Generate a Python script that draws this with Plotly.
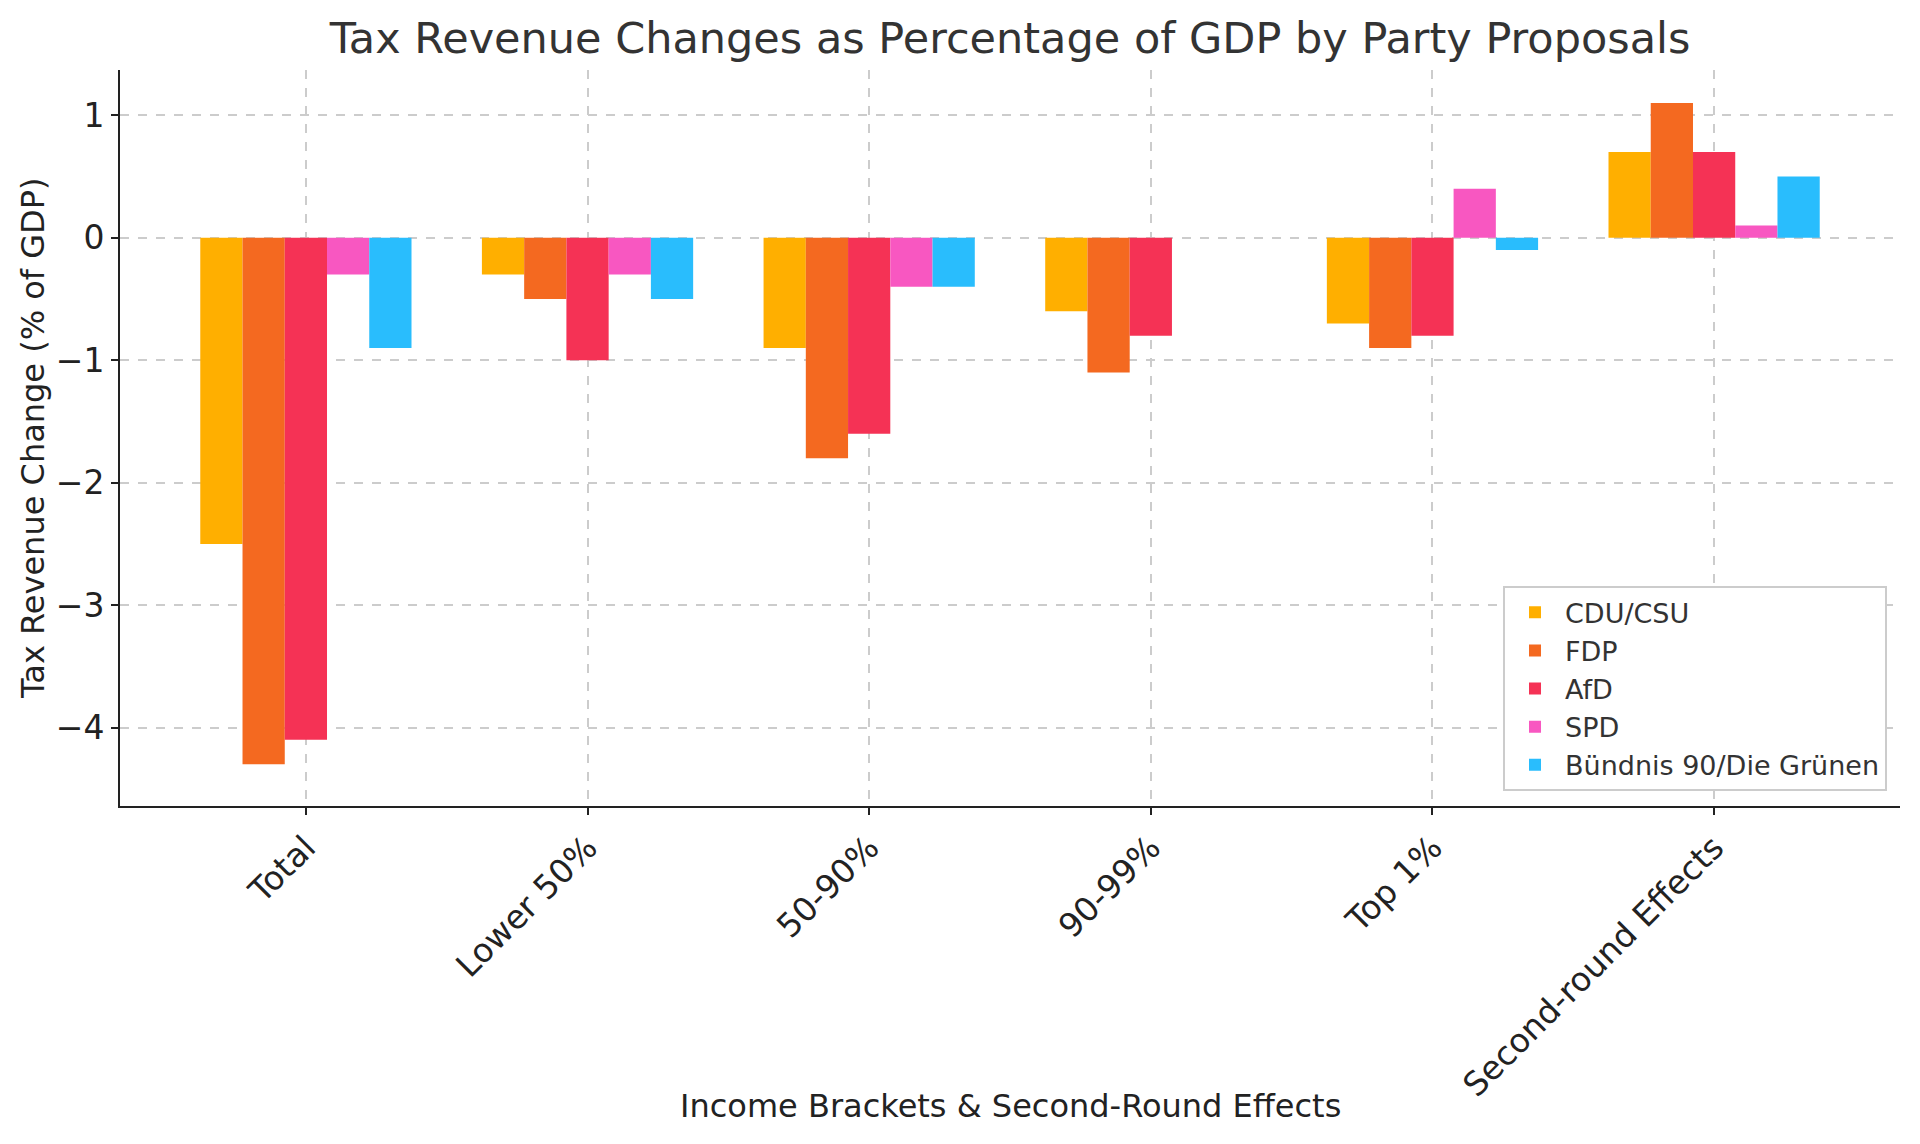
import plotly.graph_objects as go

categories = ["Total", "Lower 50%", "50-90%", "90-99%", "Top 1%", "Second-round Effects"]
parties = ["CDU/CSU", "FDP", "AfD", "SPD", "Bündnis 90/Die Grünen"]

cdu_csu = [-2.5, -0.3, -0.9, -0.6, -0.7, 0.7]
fdp = [-4.3, -0.5, -1.8, -1.1, -0.9, 1.1]
afd = [-4.1, -1.0, -1.6, -0.8, -0.8, 0.7]
spd = [-0.3, -0.3, -0.4, 0.0, 0.4, 0.1]
gruene = [-0.9, -0.5, -0.4, 0.0, -0.1, 0.5]

series = [cdu_csu, fdp, afd, spd, gruene]
colors = ["#FFAF00", "#F46920", "#F53255", "#F857C1", "#29BDFD"]

FONT = "DejaVu Sans"

fig = go.Figure()
for name, vals, col in zip(parties, series, colors):
    fig.add_trace(go.Bar(
        x=categories, y=vals, name=name,
        marker=dict(color=col, line=dict(width=0)),
    ))

fig.update_layout(
    width=1920, height=1144,
    barmode="group", bargap=0.25, bargroupgap=0,
    plot_bgcolor="white", paper_bgcolor="white",
    margin=dict(l=112, r=28, t=62, b=346),
    font=dict(family=FONT, color="#222222"),
    title=dict(
        text="Tax Revenue Changes as Percentage of GDP by Party Proposals",
        x=0.5, xref="paper", y=1 - 30 / 1144, yref="container", yanchor="middle",
        font=dict(size=43, color="#333333", family=FONT),
    ),
    legend=dict(
        x=0.9927, y=0.02, xanchor="right", yanchor="bottom",
        bgcolor="white", bordercolor="#cccccc", borderwidth=2,
        font=dict(size=27, color="#333333", family=FONT),
        itemsizing="constant", itemwidth=50,
    ),
    showlegend=True,
    annotations=[
        dict(
            text="Income Brackets & Second-Round Effects",
            xref="paper", yref="paper", x=0.5, y=-0.4076,
            xanchor="center", yanchor="middle", showarrow=False,
            font=dict(size=32, color="#222222", family=FONT),
        ),
        dict(
            text="Tax Revenue Change (% of GDP)",
            xref="paper", yref="paper", x=-0.0489, y=0.5,
            xanchor="center", yanchor="middle", showarrow=False,
            textangle=-90,
            font=dict(size=32, color="#222222", family=FONT),
        ),
    ],
)

fig.update_xaxes(
    range=[-0.66, 5.66],
    tickangle=-45,
    tickfont=dict(size=33, color="#222222"),
    showline=True, linecolor="#222222", linewidth=2, mirror=False,
    ticks="outside", ticklen=7, tickwidth=2, tickcolor="#222222",
    showgrid=True, gridcolor="#cccccc", griddash="dash", gridwidth=1.5,
)
fig.update_yaxes(
    range=[-4.64, 1.37],
    dtick=1, tick0=0,
    tickfont=dict(size=33, color="#222222"),
    showline=True, linecolor="#222222", linewidth=2, mirror=False,
    ticks="outside", ticklen=7, tickwidth=2, tickcolor="#222222",
    showgrid=True, gridcolor="#cccccc", griddash="dash", gridwidth=1.5,
    zeroline=False,
)

fig.write_html("out.html")
